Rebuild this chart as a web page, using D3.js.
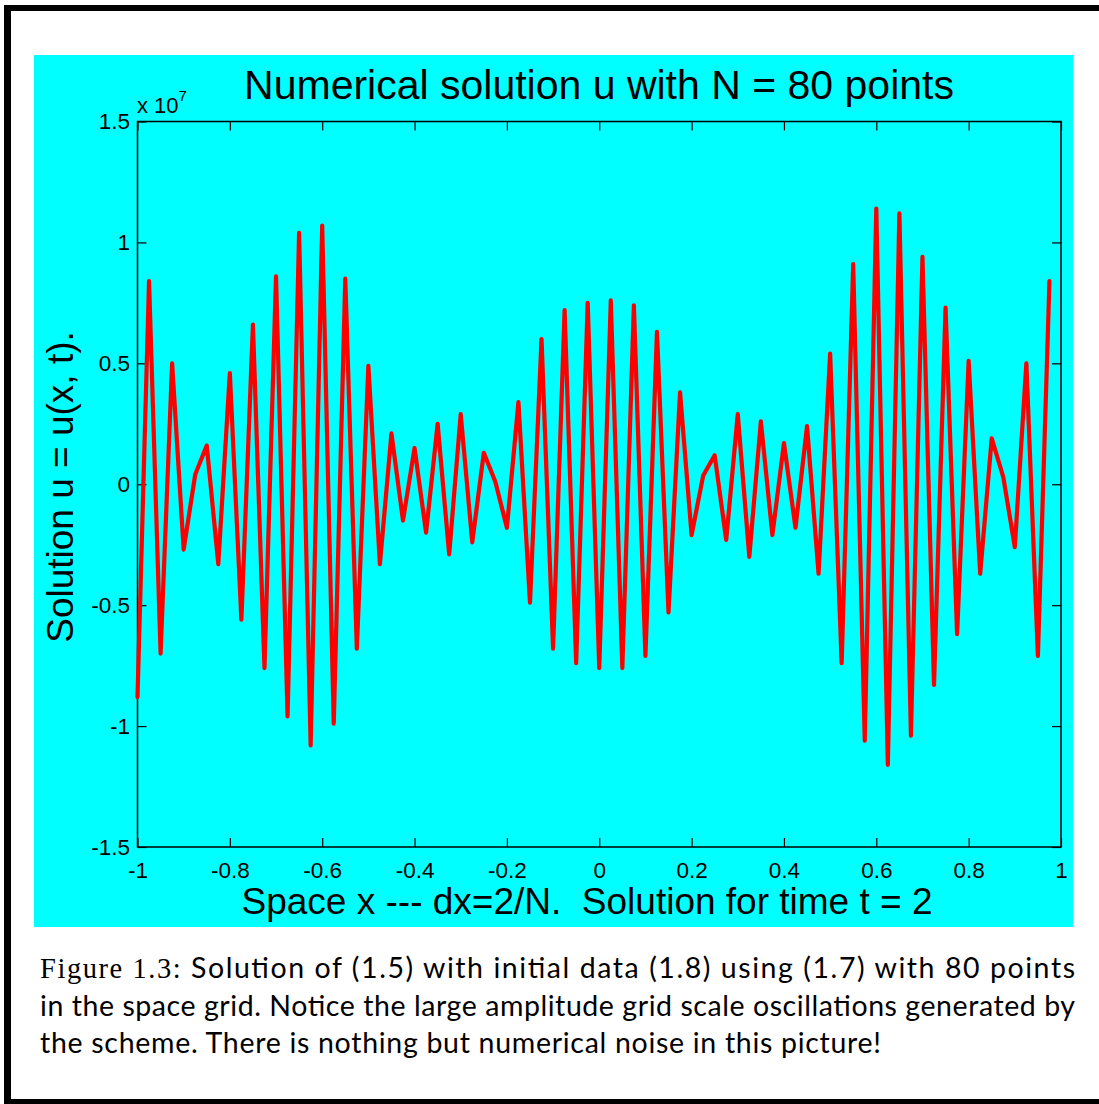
<!DOCTYPE html>
<html>
<head>
<meta charset="utf-8">
<script src="https://cdn.jsdelivr.net/npm/d3@7"></script>
<style>
  body { margin: 0; background: #fff; }
  svg text { font-family: "Liberation Sans", Arial, Helvetica, sans-serif; }
</style>
</head>
<body>
<svg id="chart" width="1099" height="1104"></svg>
<script>
// grid: N = 80 points, dx = 2/N
var N = 80;
var dx = 2 / N;

// u values (units of 1e7), left to right
var uValues = [
  -0.88, 0.84, -0.70, 0.50, -0.27, 0.04, 0.16, -0.33, 0.46, -0.56,
  0.66, -0.76, 0.86, -0.96, 1.04, -1.08, 1.07, -0.99, 0.85, -0.68,
  0.49, -0.33, 0.21, -0.15, 0.15, -0.20, 0.25, -0.29, 0.29, -0.24,
  0.13, 0.01, -0.18, 0.34, -0.49, 0.60, -0.68, 0.72, -0.74, 0.75,
  -0.76, 0.76, -0.76, 0.74, -0.71, 0.63, -0.53, 0.38, -0.21, 0.035,
  0.12, -0.23, 0.29, -0.30, 0.26, -0.21, 0.17, -0.18, 0.24, -0.37,
  0.54, -0.74, 0.91, -1.06, 1.14, -1.16, 1.12, -1.04, 0.94, -0.83,
  0.73, -0.62, 0.51, -0.37, 0.19, 0.03, -0.26, 0.50, -0.71, 0.84
];

var xTicks = [-1, -0.8, -0.6, -0.4, -0.2, 0, 0.2, 0.4, 0.6, 0.8, 1];
var yTicks = [-1.5, -1, -0.5, 0, 0.5, 1, 1.5];

var titleText = 'Numerical solution u with N = 80 points';
var xLabelText = 'Space x --- dx=2/N.  Solution for time t = 2';
var yLabelText = 'Solution u = u(x, t).';
var captionLines = [
  'Solution of (1.5) with initial data (1.8) using (1.7) with 80 points',
  'in the space grid. Notice the large amplitude grid scale oscillations generated by',
  'the scheme. There is nothing but numerical noise in this picture!'
];

var points = uValues.map(function (u, i) {
  return { x: -1 + i * dx, u: u };
});

var svg = d3.select('#chart');

// page frame
svg.append('rect').attr('x', 4).attr('y', 5).attr('width', 1095).attr('height', 6).attr('fill', '#000');
svg.append('rect').attr('x', 4).attr('y', 5).attr('width', 7).attr('height', 1099).attr('fill', '#000');
svg.append('rect').attr('x', 4).attr('y', 1099).attr('width', 1095).attr('height', 5).attr('fill', '#000');

// figure background
svg.append('rect')
  .attr('x', 34).attr('y', 55)
  .attr('width', 1039).attr('height', 872)
  .attr('fill', '#00ffff');

var plot = { left: 137.5, right: 1061, top: 121.5, bottom: 847 };

var xScale = d3.scaleLinear().domain([-1, 1]).range([plot.left, plot.right]);
var yScale = d3.scaleLinear().domain([-1.5, 1.5]).range([plot.bottom, plot.top]);

var fmt = function (d) { return String(d); };

svg.append('g')
  .attr('transform', 'translate(0,' + plot.bottom + ')')
  .call(d3.axisBottom(xScale).tickValues(xTicks).tickFormat(fmt)
    .tickSizeInner(-9).tickSizeOuter(0).tickPadding(15));

svg.append('g')
  .attr('transform', 'translate(0,' + plot.top + ')')
  .call(d3.axisTop(xScale).tickValues(xTicks).tickFormat('')
    .tickSizeInner(-9).tickSizeOuter(0));

svg.append('g')
  .attr('transform', 'translate(' + plot.left + ',0)')
  .call(d3.axisLeft(yScale).tickValues(yTicks).tickFormat(fmt)
    .tickSizeInner(-9).tickSizeOuter(0).tickPadding(7.5));

svg.append('g')
  .attr('transform', 'translate(' + plot.right + ',0)')
  .call(d3.axisRight(yScale).tickValues(yTicks).tickFormat('')
    .tickSizeInner(-9).tickSizeOuter(0));

svg.selectAll('.domain').remove();
svg.selectAll('.tick line').attr('stroke', '#000').attr('stroke-width', 1.2);
svg.selectAll('.tick text')
  .attr('fill', '#000')
  .style('font-size', '22.5px')
  .style('font-family', '"Liberation Sans", Arial, sans-serif');

// box
svg.append('rect')
  .attr('x', plot.left).attr('y', plot.top)
  .attr('width', plot.right - plot.left)
  .attr('height', plot.bottom - plot.top)
  .attr('fill', 'none')
  .attr('stroke', '#000')
  .attr('stroke-width', 1.5);

// the solution
var line = d3.line()
  .x(function (d) { return xScale(d.x); })
  .y(function (d) { return yScale(d.u); });

svg.append('path')
  .datum(points)
  .attr('d', line)
  .attr('fill', 'none')
  .attr('stroke', '#ff0000')
  .attr('stroke-width', 4.2)
  .attr('stroke-linejoin', 'round')
  .attr('stroke-linecap', 'round');

// exponent
var expo = svg.append('text')
  .attr('x', 137).attr('y', 113)
  .style('font-size', '22px');
expo.append('tspan').text('x 10');
expo.append('tspan').attr('dy', -12).style('font-size', '15px').text('7');

// title
svg.append('text')
  .attr('x', 599).attr('y', 99)
  .attr('text-anchor', 'middle')
  .style('font-size', '41px')
  .text(titleText);

// axis labels
svg.append('text')
  .attr('x', 587).attr('y', 914)
  .attr('text-anchor', 'middle')
  .attr('xml:space', 'preserve')
  .style('white-space', 'pre')
  .style('font-size', '37px')
  .text(xLabelText);

svg.append('text')
  .attr('transform', 'translate(73,487) rotate(-90)')
  .attr('text-anchor', 'middle')
  .style('font-size', '37px')
  .text(yLabelText);

// caption
var capY = [978, 1015.5, 1053];
var capLen = [1035, 1035, 841];
captionLines.forEach(function (t, i) {
  var txt = svg.append('text')
    .attr('x', 40).attr('y', capY[i])
    .attr('textLength', capLen[i])
    .attr('lengthAdjust', 'spacing')
    .style('font-size', '28.5px')
    .style('font-family', 'Lato, "Liberation Sans", sans-serif');
  if (i === 0) {
    txt.append('tspan')
      .style('font-family', '"Liberation Serif", "DejaVu Serif", serif')
      .text('Figure 1.3: ');
  }
  txt.append('tspan').text(t);
});
</script>
</body>
</html>
